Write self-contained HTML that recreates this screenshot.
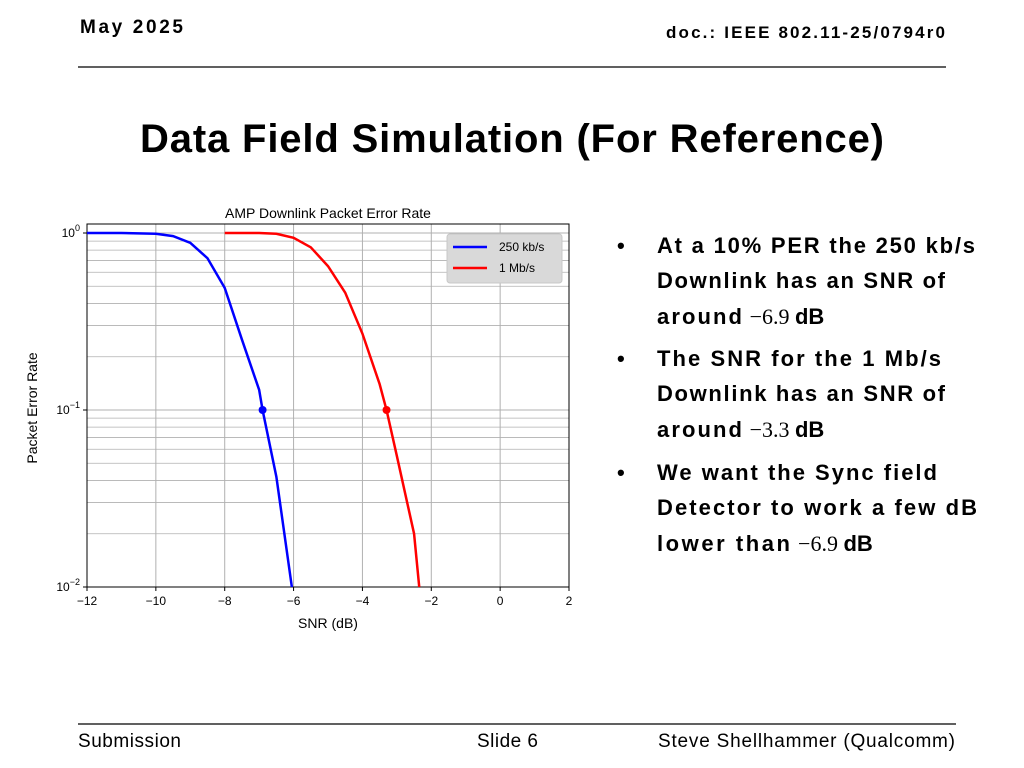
<!DOCTYPE html>
<html><head><meta charset="utf-8"><style>body{margin:0;background:#fff}svg{display:block}</style></head><body>
<svg width="1024" height="768" viewBox="0 0 1024 768" font-family="Liberation Sans, sans-serif">
<text x="80" y="33" font-size="19" font-weight="bold" textLength="103">May 2025</text>
<text x="945" y="38" font-size="17" font-weight="bold" text-anchor="end" textLength="279">doc.: IEEE 802.11-25/0794r0</text>
<line x1="78" y1="67" x2="946" y2="67" stroke="#000" stroke-width="1.2"/>
<text x="140" y="152" font-size="40" font-weight="bold" textLength="744">Data Field Simulation (For Reference)</text>
<g id="chart"></g>
<g font-size="22" font-weight="bold">
<text x="617" y="253">•</text><text x="657" y="253" textLength="318">At a 10% PER the 250 kb/s</text>
<text x="657" y="288" textLength="288">Downlink has an SNR of</text>
<text x="657" y="324"><tspan textLength="85">around</tspan><tspan font-family="Liberation Serif, serif" font-weight="normal"> −6.9 </tspan>dB</text>
<text x="617" y="366">•</text><text x="657" y="366" textLength="284">The SNR for the 1 Mb/s</text>
<text x="657" y="401" textLength="288">Downlink has an SNR of</text>
<text x="657" y="437"><tspan textLength="85">around</tspan><tspan font-family="Liberation Serif, serif" font-weight="normal"> −3.3 </tspan>dB</text>
<text x="617" y="480">•</text><text x="657" y="480" textLength="280">We want the Sync field</text>
<text x="657" y="515" textLength="320">Detector to work a few dB</text>
<text x="657" y="551"><tspan textLength="133">lower than</tspan><tspan font-family="Liberation Serif, serif" font-weight="normal"> −6.9 </tspan>dB</text>
</g>
<line x1="78" y1="724" x2="956" y2="724" stroke="#000" stroke-width="1.2"/>
<text x="78" y="747" font-size="19" textLength="103">Submission</text>
<text x="477" y="747" font-size="19" textLength="61">Slide 6</text>
<text x="955" y="747" font-size="19" text-anchor="end" textLength="297">Steve Shellhammer (Qualcomm)</text>
</svg>
<script>
const xTicks=[-12,-10,-8,-6,-4,-2,0,2];
const blueX=[-12,-11,-10,-9.5,-9,-8.5,-8,-7.5,-7,-6.9,-6.5,-6.05];
const blueY=[1,1,0.99,0.96,0.88,0.72,0.49,0.25,0.13,0.1,0.042,0.01];
const redX=[-8,-7,-6.5,-6,-5.5,-5,-4.5,-4,-3.5,-3.3,-3,-2.5,-2.35];
const redY=[1,1,0.99,0.94,0.83,0.65,0.46,0.27,0.14,0.1,0.055,0.02,0.01];
const markX=[-6.9,-3.3];
const markY=[0.1,0.1];
const NS='http://www.w3.org/2000/svg';
const L=87,R=569,T=224,B=587;
const sx=v=>L+(v+12)/14*(R-L);
const sy=v=>233+(-Math.log10(v))*(B-233)/2;
const g=document.getElementById('chart');
function mk(t,a,p){const e=document.createElementNS(NS,t);for(const k in a)e.setAttribute(k,a[k]);(p||g).appendChild(e);return e;}
// grid
for(const d of [0,1]){for(let m=1;m<=9;m++){const v=Math.pow(10,-d-1)*m*10/10;const y=sy(Math.pow(10,-d)*m/10*10/ (m===1?1:1)*(1));}}
for(const d of [-2,-1]){for(let m=1;m<=9;m++){const y=sy(m*Math.pow(10,d));
const ln=mk('line',{x1:L,x2:R,y1:y,y2:y,stroke:'#b0b0b0','stroke-width':m===1?1:0.8});

}}
{const y=sy(1);const ln=mk('line',{x1:L,x2:R,y1:y,y2:y,stroke:'#b0b0b0','stroke-width':1});

}
xTicks.forEach(t=>{const x=sx(t);
const ln=mk('line',{x1:x,x2:x,y1:T,y2:B,stroke:'#b0b0b0','stroke-width':1});


mk('line',{x1:x,x2:x,y1:B,y2:B+4,stroke:'#000'});
const tx=mk('text',{x:x,y:B+18,'font-size':12,'text-anchor':'middle'});
tx.textContent=(t<0?'−':'')+Math.abs(t);

});
[[0,'0'],[-1,'−1'],[-2,'−2']].forEach(([e,s])=>{const y=sy(Math.pow(10,e));
mk('line',{x1:L-4,x2:L,y1:y,y2:y,stroke:'#000'});
const tx=mk('text',{x:L-7,y:y+4,'font-size':12,'text-anchor':'end'});
tx.innerHTML='10<tspan dy="-6" font-size="9">'+s+'</tspan>';

});
const fr=mk('rect',{x:L,y:T,width:R-L,height:B-T,fill:'none',stroke:'#000','stroke-width':1});


function series(xs,ys,c,n){const p=mk('polyline',{points:xs.map((x,i)=>sx(x)+','+sy(ys[i])).join(' '),fill:'none',stroke:c,'stroke-width':2.5});

}
series(blueX,blueY,'#0000ff','series-250kbps');
series(redX,redY,'#ff0000','series-1mbps');
['#0000ff','#ff0000'].forEach((c,i)=>{const m=mk('circle',{cx:sx(markX[i]),cy:sy(markY[i]),r:4,fill:c});

});
const t1=mk('text',{x:328,y:218,'font-size':14,'text-anchor':'middle'});t1.textContent='AMP Downlink Packet Error Rate';


const t2=mk('text',{x:328,y:628,'font-size':14,'text-anchor':'middle'});t2.textContent='SNR (dB)';


const t3=mk('text',{x:37,y:408,'font-size':14,'text-anchor':'middle',transform:'rotate(-90 37 408)'});t3.textContent='Packet Error Rate';


const lg=mk('g',{});


mk('rect',{x:447,y:234,width:115,height:49,rx:3,fill:'#d9d9d9',stroke:'#c8c8c8'},lg);
[['250 kb/s','#0000ff'],['1 Mb/s','#ff0000']].forEach(([s,c],i)=>{const y=247+i*21;
mk('line',{x1:453,x2:487,y1:y,y2:y,stroke:c,'stroke-width':2.5},lg);
const tx=mk('text',{x:499,y:y+4,'font-size':12},lg);tx.textContent=s;

});
</script>
</body></html>
